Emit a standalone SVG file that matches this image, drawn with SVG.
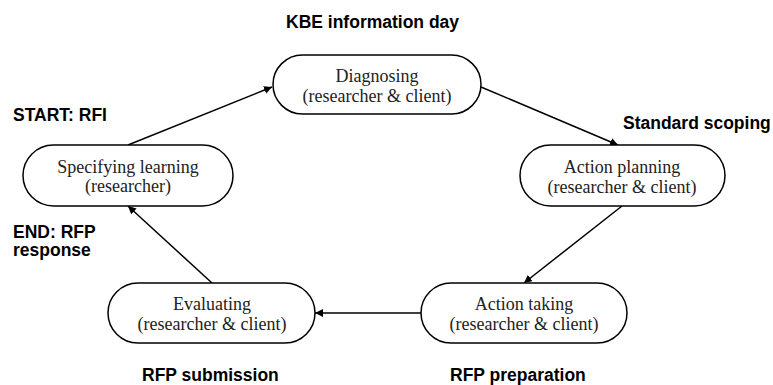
<svg xmlns="http://www.w3.org/2000/svg" width="773" height="385" viewBox="0 0 773 385">
<style>
.box{fill:#fff;stroke:#000;stroke-width:1.5}
.nt{font-family:"Liberation Serif",serif;font-size:18px;fill:#222;text-anchor:middle}
.lb{font-family:"Liberation Sans",sans-serif;font-size:17.5px;font-weight:bold;fill:#000}
.cn{stroke:#000;stroke-width:1.5;fill:none;marker-end:url(#ah)}
</style>
<defs>
<marker id="ah" viewBox="0 0 10 10" refX="10" refY="5" markerWidth="8" markerHeight="8" markerUnits="userSpaceOnUse" orient="auto">
<path d="M0,0 L10,5 L0,10 z" fill="#000"/>
</marker>
</defs>
<rect width="773" height="385" fill="#fff"/>
<g id="connectors">
<line class="cn" x1="128" y1="145" x2="272" y2="87"/>
<line class="cn" x1="481" y1="87" x2="618" y2="145"/>
<line class="cn" x1="622" y1="206" x2="524" y2="283"/>
<line class="cn" x1="421" y1="313" x2="315" y2="313"/>
<line class="cn" x1="212" y1="283" x2="128" y2="206"/>
</g>
<g id="diagnosing">
<rect class="box" x="273" y="55" width="208" height="59" rx="29.5"/>
<text class="nt" x="377" y="82">Diagnosing</text>
<text class="nt" x="377" y="102">(researcher &amp; client)</text>
</g>
<g id="action-planning">
<rect class="box" x="520" y="145" width="205" height="61" rx="30.5"/>
<text class="nt" x="622" y="173">Action planning</text>
<text class="nt" x="622" y="193">(researcher &amp; client)</text>
</g>
<g id="action-taking">
<rect class="box" x="421" y="283" width="206" height="60" rx="30"/>
<text class="nt" x="524" y="310">Action taking</text>
<text class="nt" x="524" y="330">(researcher &amp; client)</text>
</g>
<g id="evaluating">
<rect class="box" x="108" y="283" width="207" height="60" rx="30"/>
<text class="nt" x="212" y="310">Evaluating</text>
<text class="nt" x="212" y="330">(researcher &amp; client)</text>
</g>
<g id="specifying-learning">
<rect class="box" x="23" y="145" width="210" height="61" rx="30.5"/>
<text class="nt" x="128" y="173">Specifying learning</text>
<text class="nt" x="128" y="192">(researcher)</text>
</g>
<g id="labels">
<text class="lb" x="286" y="28">KBE information day</text>
<text class="lb" x="623" y="129">Standard scoping</text>
<text class="lb" x="13" y="121">START: RFI</text>
<text class="lb" x="13" y="238">END: RFP</text>
<text class="lb" x="13" y="256">response</text>
<text class="lb" x="142" y="381">RFP submission</text>
<text class="lb" x="450" y="381">RFP preparation</text>
</g>
</svg>
